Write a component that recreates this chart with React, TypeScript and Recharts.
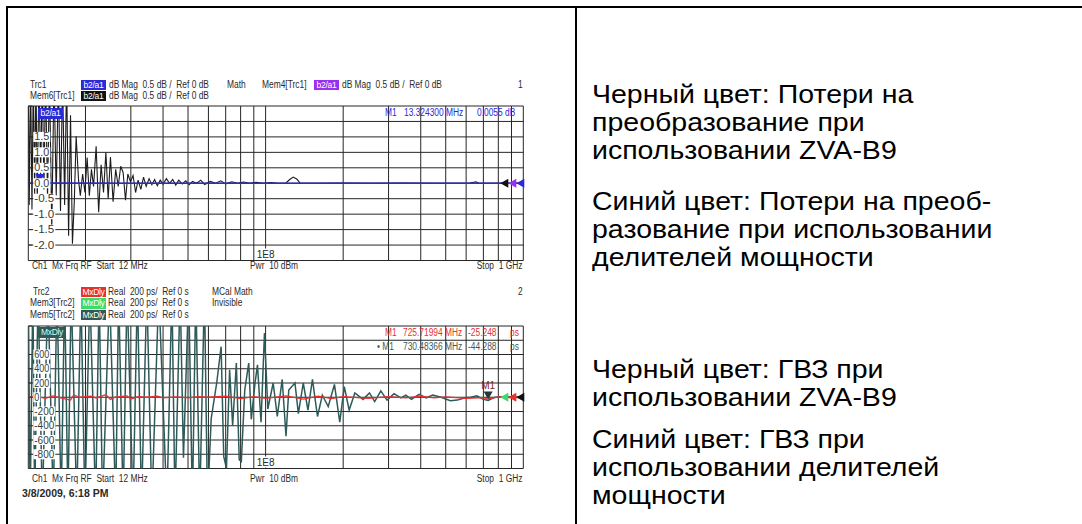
import {
  CartesianGrid,
  Line,
  LineChart,
  ReferenceDot,
  ReferenceLine,
  XAxis,
  YAxis,
} from "recharts";

type Pt = [number, number];

// sweep 12 MHz .. 1 GHz, log frequency grid
const FREQ_TICKS = [12, 20, 30, 40, 50, 60, 70, 80, 90, 100, 200, 300, 400, 500, 600, 700, 800, 900, 1000];
const DB_TICKS = [-2.5, -2, -1.5, -1, -0.5, 0, 0.5, 1, 1.5, 2, 2.5];
const DB_LABELED = [-2, -1.5, -1, -0.5, 0, 0.5, 1, 1.5];
const PS_TICKS = [-1000, -800, -600, -400, -200, 0, 200, 400, 600, 800, 1000];
const PS_LABELED = [-800, -600, -400, -200, 0, 200, 400, 600];

// conversion loss, dB  (Mem6 = ZVA-B9, black)
const lossZva: Pt[] = [
  [12.0, 3.5], [12.1, -0.7], [12.25, 3.5], [12.4, -0.85], [12.55, 3.5], [12.7, -0.4],
  [12.85, 3.5], [13.0, -0.6], [13.2, 3.5], [13.4, 0.3], [13.6, 3.5], [13.8, -0.2],
  [14.0, 3.5], [14.25, -0.5], [14.5, 3.5], [14.8, -1.5], [15.1, 3.5], [15.4, -0.4],
  [15.7, 3.5], [16.0, -0.9], [16.3, 3.5], [16.6, -0.7], [16.9, 3.5], [17.2, -1.7],
  [17.5, 2.2], [17.8, -1.96], [18.1, -0.6], [18.4, 1.52], [18.8, 0.1], [19.1, -0.4],
  [19.5, 0.3], [19.9, -0.3], [20.3, 0.83], [20.7, -0.4], [21.1, 0.45], [21.5, -0.1],
  [22.0, 1.2], [22.5, -0.94], [23.0, 0.6], [23.5, -0.3], [24.0, 1.0], [24.5, -0.5],
  [25.0, 0.85], [25.6, -0.6], [26.2, 0.45], [26.8, -0.1], [27.4, 0.55], [28.0, 0.35],
  [28.6, -0.55], [29.2, 0.3], [29.9, 0.05], [30.6, 0.25], [31.3, -0.3], [32.0, 0.1],
  [32.8, -0.2], [33.6, 0.2], [34.4, -0.1], [35.3, 0.15], [36.2, -0.05], [37.1, 0.12],
  [38.0, -0.08], [39.0, 0.1], [40.0, -0.03], [41.2, 0.15], [42.4, 0.0], [43.6, 0.12],
  [44.8, -0.06], [46.0, 0.1], [47.5, -0.02], [49.0, 0.08], [50.5, -0.05], [52.0, 0.06],
  [54.0, 0.0], [56.0, 0.1], [58.0, -0.04], [61.0, 0.06], [64.0, 0.0], [67.0, 0.08],
  [70.0, -0.02], [74.0, 0.05], [78.0, 0.0], [82.0, 0.04], [87.0, 0.0], [92.0, 0.03],
  [98.0, 0.0], [105.0, 0.02], [112.0, 0.0], [120.0, 0.01], [124.0, 0.12], [128.0, 0.2],
  [132.0, 0.14], [136.0, 0.01], [160.0, 0.0], [200.0, 0.01], [260.0, 0.0], [340.0, 0.01],
  [450.0, 0.0], [620.0, 0.01], [655.0, 0.05], [672.0, 0.0], [800.0, 0.0], [1000.0, 0.0],
];

// conversion loss, dB  (Trc1 = power splitters, blue)
const lossSplitter: Pt[] = [
  [12, 0], [13.3243, 0.0055], [30, 0], [100, 0], [300, 0], [1000, 0],
];

// group delay, ps  (Mem5 = ZVA-B9, dark teal)
const delayZva: Pt[] = [
  [12.0, 1500], [12.2, -1500], [12.5, 1500], [12.7, -1500], [13.1, 1500], [13.6, -1500],
  [14.3, 1500], [15.0, -1500], [15.5, 1500], [16.1, -1500], [16.6, 1500], [17.1, -1500],
  [17.6, 1500], [18.5, -1500], [19.2, 1500], [19.9, -1500], [20.8, 1500], [21.9, -1500],
  [22.6, 1500], [23.3, -1500], [24.8, 1500], [26.2, -1500], [26.9, 1500], [28.0, -1500],
  [29.0, 1500], [30.6, -1500], [31.8, 1500], [33.0, -1500], [34.6, 1500], [36.2, -1500],
  [38.5, 1500], [41.4, -1500], [43.3, 1500], [44.5, -1500], [46.6, 1500], [48.0, -850],
  [50.3, 1500], [52.0, -1500], [53.6, 1500], [55.5, -1500], [57.9, 1500], [59.5, -1500],
  [61.5, -300], [64.6, 200], [67.2, 710], [68.8, -830], [70.5, -1000], [72.5, 385],
  [74.5, -400], [77, 480], [79, -875], [80.5, -900], [83, 100], [86, 480], [88, -310],
  [91, 200], [93, 455], [96, -350], [99, 900], [102, -165], [107, 200], [111, -268],
  [116, 250], [120, -548], [123, 100], [130, 200], [134, -230], [140, 200], [146, -180],
  [152, 250], [159, -270], [166, 30], [175, -130], [185, 180], [194, -350], [202, 150],
  [211, -180], [222, 60], [239, -30], [253, 60], [265, -60], [280, 90], [296, -40],
  [315, 50], [335, -10], [350, 30], [368, -30], [394, 40], [420, -10], [445, 30],
  [480, 0], [521, -50], [555, -40], [590, -10], [626, 0], [660, 20], [700, -30],
  [730.48, -44], [770, -5], [850, 10], [1000, 0],
];

// group delay, ps  (Trc2 = power splitters, red)
const delaySplitter: Pt[] = [
  [12, 0], [13, 10], [14, -15], [15, 20], [16, -10], [17.5, -40], [18, 30], [19, 0],
  [21, 15], [22, -10], [24, 35], [25, -30], [26, 0], [29, 20], [30, -25], [32, 10],
  [35, 0], [38, 15], [40, -10], [45, 5], [50, -10], [55, 10], [60, 0], [70, 15],
  [80, -20], [90, 10], [100, -15], [120, 20], [140, -25], [160, 15], [180, -20],
  [200, 10], [250, -15], [300, 10], [350, -10], [400, 15], [450, -10], [500, 5],
  [600, -15], [700, -5], [725.72, -25], [800, 5], [900, -5], [1000, 0],
];

const M1_LOSS = { f: 13.3243, v: 0.0055 };
const M1_DELAY = { f: 730.48366, v: -44.288 };

const FONT = "'Liberation Sans', Arial, sans-serif";
const INK = "#2a2a2a";
const GRID = "#262626";
const BLUE = "#2a2ad6";
const PURPLE = "#9a2ff0";
const RED = "#e83030";
const GREEN = "#3ddc6a";
const TEAL = "#2e5a5a";

const rows = (pts: Pt[]) => pts.map(([f, v]) => ({ f, v }));

// analyzer screen text, slightly condensed like the instrument font
function Small({ x, y, color = INK, size = 10, right = false, bold = false, sx = 0.84, children }: any) {
  return (
    <div
      style={{
        position: "absolute",
        left: right ? undefined : x,
        right: right ? 1082 - x : undefined,
        top: y - 6,
        transform: `scaleX(${sx})`,
        transformOrigin: right ? "right center" : "left center",
        fontFamily: FONT,
        fontSize: size,
        lineHeight: "12px",
        color,
        fontWeight: bold ? 700 : 400,
        whiteSpace: "pre",
      }}
    >
      {children}
    </div>
  );
}

function Tag({ x, y, w, h = 10, bg, fg = "#fff", children }: any) {
  return (
    <div
      style={{
        position: "absolute",
        left: x,
        top: y,
        width: w,
        height: h,
        background: bg,
        color: fg,
        fontFamily: FONT,
        fontSize: 8.5,
        lineHeight: `${h}px`,
        letterSpacing: -0.3,
        textAlign: "center",
        whiteSpace: "pre",
        overflow: "hidden",
      }}
    >
      {children}
    </div>
  );
}

function TextRow({ y, children }: any) {
  return (
    <div
      style={{
        position: "absolute",
        left: 592,
        top: y - 22.7,
        transform: "scaleX(1.14)",
        transformOrigin: "left center",
        fontFamily: FONT,
        fontSize: 25,
        lineHeight: "28px",
        color: "#000",
        whiteSpace: "pre",
      }}
    >
      {children}
    </div>
  );
}

const E8Label = (props: any) => {
  const { x, y, height } = props.viewBox;
  const by = y + height;
  return (
    <g>
      <rect x={x - 10} y={by - 12} width={20} height={11} fill="#fff" />
      <text x={x} y={by - 3} textAnchor="middle" fontSize={10} fontFamily={FONT} fill={INK}>
        1E8
      </text>
    </g>
  );
};

const yTick = (fmt: (v: number) => string) => (p: any) => {
  const s = fmt(p.payload.value);
  if (!s) return <g />;
  const w = s.length * 5 + 2;
  return (
    <g>
      <rect x={p.x - 1} y={p.y - 5} width={w} height={10} fill="#fff" />
      <text x={p.x} y={p.y + 3.5} fontSize={10} fontFamily={FONT} fill="#3a3a3a" textLength={w - 2} lengthAdjust="spacingAndGlyphs">
        {s}
      </text>
    </g>
  );
};

const dbLabel = (v: number) => (DB_LABELED.includes(v) ? v.toFixed(1) : "");
const psLabel = (v: number) => (PS_LABELED.includes(v) ? String(v) : "");

const markerTri = (color: string, labelColor: string) => (p: any) => (
  <g>
    <text x={p.cx} y={p.cy - 11} textAnchor="middle" fontSize={10} fontFamily={FONT} fill={labelColor}>
      M1
    </text>
    <path d={`M${p.cx - 4.5},${p.cy - 9} L${p.cx + 4.5},${p.cy - 9} L${p.cx},${p.cy - 1} Z`} fill={color} />
  </g>
);

const edgeArrows = (colors: string[]) => (p: any) => (
  <g>
    {colors.map((c, i) => {
      const tip = p.cx - 23 + i * 8;
      return <path key={i} d={`M${tip},${p.cy} L${tip + 8},${p.cy - 4.5} L${tip + 8},${p.cy + 4.5} Z`} fill={c} />;
    })}
  </g>
);

const freqAxis = (
  <XAxis
    type="number"
    dataKey="f"
    scale="log"
    domain={[12, 1000]}
    ticks={FREQ_TICKS}
    interval={0}
    allowDataOverflow
    tick={false}
    tickLine={false}
    axisLine={false}
    height={0}
  />
);

const freqGrid = FREQ_TICKS.map((f) => (
  <ReferenceLine key={`g${f}`} x={f} stroke={GRID} strokeWidth={1} />
));

export default function App() {
  return (
    <div style={{ position: "absolute", left: 0, top: 0, width: 1082, height: 524, background: "#fff", overflow: "hidden" }}>
      {/* table rules */}
      <div style={{ position: "absolute", left: 6, top: 5.5, width: 1100, height: 2, background: "#000" }} />
      <div style={{ position: "absolute", left: 6, top: 5.5, width: 2, height: 530, background: "#000" }} />
      <div style={{ position: "absolute", left: 575, top: 5.5, width: 2, height: 530, background: "#000" }} />

      {/* diagram 1: conversion loss */}
      <div style={{ position: "absolute", left: 0, top: 0 }}>
        <LineChart width={560} height={280} margin={{ top: 106, right: 36.7, bottom: 19.5, left: 28.3 }}>
          <CartesianGrid stroke={GRID} strokeWidth={1} vertical={false} />
          {freqAxis}
          {freqGrid}
          <ReferenceLine x={100} stroke="none" label={E8Label} />
          <Line data={rows(lossZva)} dataKey="v" stroke="#1c1c1c" strokeWidth={1.1} dot={false} isAnimationActive={false} />
          <Line data={rows(lossSplitter)} dataKey="v" stroke={BLUE} strokeWidth={1.5} dot={false} isAnimationActive={false} />
          <YAxis
            mirror
            type="number"
            domain={[-2.5, 2.5]}
            ticks={DB_TICKS}
            interval={0}
            allowDataOverflow
            axisLine={false}
            tickSize={4}
            tickMargin={2}
            tickLine={{ stroke: "#333" }}
            tick={yTick(dbLabel)}
          />
          <ReferenceDot x={M1_LOSS.f} y={M1_LOSS.v} ifOverflow="visible" shape={markerTri(BLUE, BLUE)} />
          <ReferenceDot x={1000} y={0} ifOverflow="visible" shape={edgeArrows(["#111", PURPLE, BLUE])} />
        </LineChart>
      </div>

      {/* diagram 2: group delay */}
      <div style={{ position: "absolute", left: 0, top: 280 }}>
        <LineChart width={560} height={210} margin={{ top: 46, right: 36.7, bottom: 21.5, left: 28.3 }}>
          <CartesianGrid stroke={GRID} strokeWidth={1} vertical={false} />
          {freqAxis}
          {freqGrid}
          <ReferenceLine x={100} stroke="none" label={E8Label} />
          <Line data={rows(delayZva)} dataKey="v" stroke={TEAL} strokeWidth={1.5} dot={false} isAnimationActive={false} />
          <Line data={rows(delaySplitter)} dataKey="v" stroke={RED} strokeWidth={1.3} dot={false} isAnimationActive={false} />
          <YAxis
            mirror
            type="number"
            domain={[-1000, 1000]}
            ticks={PS_TICKS}
            interval={0}
            allowDataOverflow
            axisLine={false}
            tickSize={4}
            tickMargin={2}
            tickLine={{ stroke: "#333" }}
            tick={yTick(psLabel)}
          />
          <ReferenceDot x={M1_DELAY.f} y={M1_DELAY.v} ifOverflow="visible" shape={markerTri("#1e3a3a", "#7a1c1c")} />
          <ReferenceDot x={1000} y={0} ifOverflow="visible" shape={edgeArrows([GREEN, RED, "#111"])} />
        </LineChart>
      </div>

      {/* diagram 1 header */}
      <Small x={30} y={85}>Trc1</Small>
      <Tag x={81} y={80} w={25} bg={BLUE}>b2/a1</Tag>
      <Small x={109} y={85}>dB Mag  0.5 dB /  Ref 0 dB</Small>
      <Small x={227} y={85}>Math</Small>
      <Small x={262} y={85}>Mem4[Trc1]</Small>
      <Tag x={314} y={80} w={25} bg={PURPLE}>b2/a1</Tag>
      <Small x={342} y={85}>dB Mag  0.5 dB /  Ref 0 dB</Small>
      <Small x={518} y={85}>1</Small>
      <Small x={30} y={96}>Mem6[Trc1]</Small>
      <Tag x={81} y={91} w={25} bg="#111">b2/a1</Tag>
      <Small x={109} y={96}>dB Mag  0.5 dB /  Ref 0 dB</Small>
      <Tag x={38} y={108} w={25} h={11} bg={BLUE}>b2/a1</Tag>
      <Small x={385} y={113} color={BLUE}>M1</Small>
      <Small x={404} y={113} color={BLUE}>13.324300 MHz</Small>
      <Small x={477} y={113} color={BLUE}>0.0055 dB</Small>
      <Small x={32} y={266}>Ch1  Mx Frq RF  Start  12 MHz</Small>
      <Small x={250} y={266}>Pwr  10 dBm</Small>
      <Small x={522} y={266} right>Stop  1 GHz</Small>

      {/* diagram 2 header */}
      <Small x={33} y={291.5}>Trc2</Small>
      <Tag x={81} y={286.5} w={25} h={10.5} bg={RED}>MxDly</Tag>
      <Small x={108} y={291.5}>Real  200 ps/  Ref 0 s</Small>
      <Small x={212} y={291.5}>MCal Math</Small>
      <Small x={518} y={291.5}>2</Small>
      <Small x={30} y={303}>Mem3[Trc2]</Small>
      <Tag x={81} y={298} w={25} h={10.5} bg={GREEN}>MxDly</Tag>
      <Small x={108} y={303}>Real  200 ps/  Ref 0 s</Small>
      <Small x={212} y={303}>Invisible</Small>
      <Small x={30} y={314.5}>Mem5[Trc2]</Small>
      <Tag x={81} y={309.5} w={25} h={10.5} bg={TEAL}>MxDly</Tag>
      <Small x={108} y={314.5}>Real  200 ps/  Ref 0 s</Small>
      <Tag x={38} y={327} w={28} h={11} bg={TEAL} fg="#cfe">MxDly</Tag>
      <Small x={385} y={333} color={RED}>M1</Small>
      <Small x={403} y={333} color={RED}>725.71994 MHz</Small>
      <Small x={468} y={333} color={RED}>-25.248</Small>
      <Small x={510} y={333} color={RED}>ps</Small>
      <Small x={377} y={347} color="#3a5a5a">• M1</Small>
      <Small x={403} y={347} color="#3a5a5a">730.48366 MHz</Small>
      <Small x={468} y={347} color="#3a5a5a">-44.288</Small>
      <Small x={510} y={347} color="#3a5a5a">ps</Small>
      <Small x={32} y={479}>Ch1  Mx Frq RF  Start  12 MHz</Small>
      <Small x={250} y={479}>Pwr  10 dBm</Small>
      <Small x={522} y={479} right>Stop  1 GHz</Small>
      <Small x={22} y={492.5} size={10.5} bold sx={1}>3/8/2009, 6:18 PM</Small>

      {/* legend text */}
      <TextRow y={103}>Черный цвет: Потери на</TextRow>
      <TextRow y={131}>преобразование при</TextRow>
      <TextRow y={159}>использовании ZVA-B9</TextRow>
      <TextRow y={210}>Синий цвет: Потери на преоб-</TextRow>
      <TextRow y={238}>разование при использовании</TextRow>
      <TextRow y={266}>делителей мощности</TextRow>
      <TextRow y={378}>Черный цвет: ГВЗ при</TextRow>
      <TextRow y={406}>использовании ZVA-B9</TextRow>
      <TextRow y={448}>Синий цвет: ГВЗ при</TextRow>
      <TextRow y={476}>использовании делителей</TextRow>
      <TextRow y={504}>мощности</TextRow>
    </div>
  );
}
